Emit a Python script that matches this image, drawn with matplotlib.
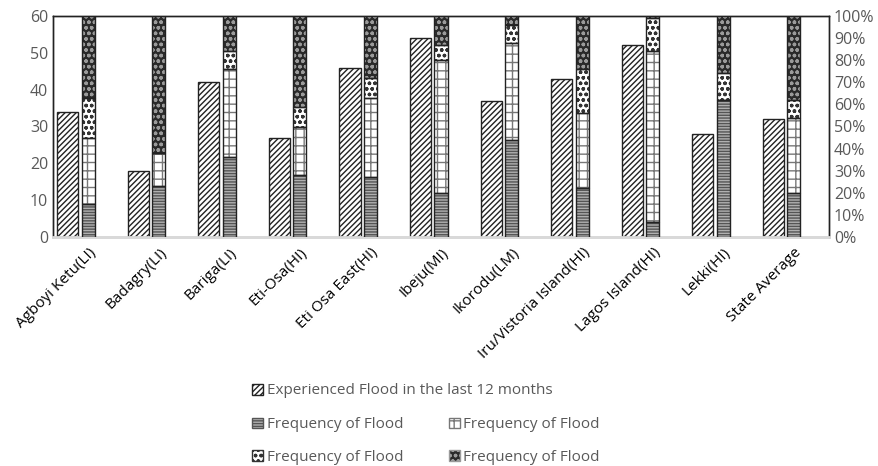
import numpy as np
import matplotlib.pyplot as plt
from matplotlib.patches import Patch

plt.rcParams['font.family'] = ['Open Sans', 'DejaVu Sans']
plt.rcParams['hatch.linewidth'] = 1.0

areas = ['Agboyi Ketu(LI)', 'Badagry(LI)', 'Bariga(LI)', 'Eti-Osa(HI)', 'Eti Osa East(HI)',
         'Ibeju(MI)', 'Ikorodu(LM)', 'Iru/Vistoria Island(HI)', 'Lagos Island(HI)',
         'Lekki(HI)', 'State Average']
experienced = [34, 18, 42, 27, 46, 54, 37, 43, 52, 28, 32]
freq1 = [15, 23, 36, 28, 27, 20, 44, 22, 7, 62, 20]
freq2 = [30, 15, 40, 22, 36, 60, 44, 34, 77, 0, 34]
freq3 = [18, 0, 8, 9, 9, 7, 8, 20, 15, 12, 8]
freq4 = [37, 62, 16, 41, 28, 13, 4, 24, 1, 26, 38]

fig = plt.figure(figsize=(8.79, 4.66), dpi=100)
ax = fig.add_axes([53/879, 1-237/466, 776/879, 221/466])
ax2 = ax.twinx()

x = np.arange(len(areas))
gray = '#595959'

ax.bar(x - 0.29, experienced, width=0.30, color='white', edgecolor='#222222',
       hatch='//////', linewidth=1.0, zorder=3)

bottom = np.zeros(len(areas))
styles = [
    ('#b0b0b0', '#555555', '------'),
    ('white', '#777777', '++'),
    ('white', '#333333', 'ooo'),
    ('#2a2a2a', '#9a9a9a', 'ooo'),
]
for vals, (fc, hc, h) in zip([freq1, freq2, freq3, freq4], styles):
    vals = np.array(vals, dtype=float)
    ax2.bar(x, vals, bottom=bottom, width=0.185, color=fc, edgecolor=hc,
            hatch=h, linewidth=0, zorder=3)
    ax2.bar(x, vals, bottom=bottom, width=0.185, fill=False, edgecolor='#222222',
            linewidth=1.0, zorder=4)
    bottom += vals

ax.set_xlim(-0.5, len(areas) - 0.5)
ax.set_ylim(0, 60)
ax.set_yticks(range(0, 61, 10))
ax2.set_ylim(0, 100)
ax2.set_yticks(range(0, 101, 10))
ax2.set_yticklabels([f'{v}%' for v in range(0, 101, 10)])

ax.set_xticks(x)
ax.set_xticklabels(areas, rotation=45, ha='right', rotation_mode='anchor', fontsize=11)
ax.tick_params(axis='x', length=0, pad=6)
ax.tick_params(axis='y', length=0, colors=gray, labelsize=11.5)
ax2.tick_params(axis='y', length=0, colors=gray, labelsize=11.5)

for a in (ax, ax2):
    for s in ('top', 'left', 'right'):
        a.spines[s].set_color('#222222')
        a.spines[s].set_linewidth(1.0)
    a.spines['bottom'].set_color('#d9d9d9')
    a.spines['bottom'].set_linewidth(2.0)

h0 = Patch(facecolor='white', edgecolor='#222222', hatch='//////', label='Experienced Flood in the last 12 months')
h1 = Patch(facecolor='#b0b0b0', edgecolor='#555555', hatch='------', label='Frequency of Flood')
h2 = Patch(facecolor='white', edgecolor='#777777', hatch='++', label='Frequency of Flood')
h3 = Patch(facecolor='white', edgecolor='#333333', hatch='ooo', label='Frequency of Flood')
h4 = Patch(facecolor='#2a2a2a', edgecolor='#9a9a9a', hatch='ooo', label='Frequency of Flood')

common = dict(frameon=False, handlelength=0.7, handleheight=0.7, handletextpad=0.25,
              fontsize=11, borderpad=0, borderaxespad=0)
leg1 = fig.legend(handles=[h0], loc='center left',
                  bbox_to_anchor=(252/879, 1-391/466), **common)
leg2 = fig.legend(handles=[h1, h3, h2, h4], ncol=2, loc='center left',
                  bbox_to_anchor=(252/879, 1-441/466), labelspacing=1.15,
                  columnspacing=3.0, **common)
for leg in (leg1, leg2):
    for t in leg.get_texts():
        t.set_color(gray)

fig.savefig('out.png', dpi=100)
